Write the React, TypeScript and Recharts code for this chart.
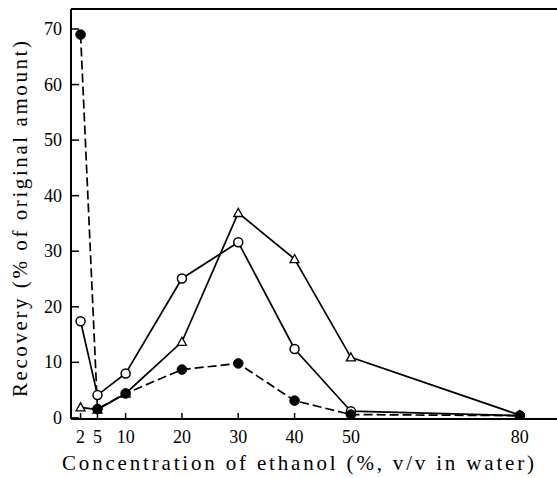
import React from 'react';
import { LineChart, Line, XAxis, YAxis, ReferenceLine } from 'recharts';

const ethanol = [2, 5, 10, 20, 30, 40, 50, 80];
const filledCircle = [69, 1.6, 4.4, 8.7, 9.8, 3.1, 0.6, 0.4];
const openCircle = [17.4, 4.1, 8.0, 25.1, 31.6, 12.4, 1.2, 0.4];
const triangle = [1.9, 1.5, 4.4, 13.7, 36.9, 28.6, 10.9, 0.5];

const xTicks = [2, 5, 10, 20, 30, 40, 50, 80];
const yTicks = [0, 10, 20, 30, 40, 50, 60, 70];

const xTitle = 'Concentration of ethanol (%, v/v in water)';
const yTitle = 'Recovery (% of original amount)';

const data = ethanol.map((x, i) => ({
  x,
  filled: filledCircle[i],
  open: openCircle[i],
  tri: triangle[i],
}));

const font = "'Liberation Serif', 'Times New Roman', 'DejaVu Serif', serif";

const YTick = (props: any) => {
  const { x, y, payload } = props;
  return (
    <g>
      <line x1={x} y1={y} x2={x + 8} y2={y} stroke="#000" strokeWidth={1.5} />
      <text x={x - 9} y={y + 6} textAnchor="end" fontFamily={font} fontSize={18} fill="#000">
        {payload.value}
      </text>
    </g>
  );
};

const XTick = (props: any) => {
  const { x, y, payload } = props;
  return (
    <g>
      <line x1={x} y1={y} x2={x} y2={y - 6} stroke="#000" strokeWidth={1.5} />
      <text x={x} y={y + 24} textAnchor="middle" fontFamily={font} fontSize={18} fill="#000">
        {payload.value}
      </text>
    </g>
  );
};

// axis titles, stretched to the span they take in the scan
const XTitle = (props: any) => {
  const { viewBox } = props;
  const cx = viewBox.x + viewBox.width / 2 - 16;
  const by = viewBox.y + viewBox.height - 8;
  return (
    <text
      x={cx - 236}
      y={by}
      fontFamily={font}
      fontSize={21}
      fill="#000"
      textLength={472}
      lengthAdjust="spacing"
    >
      {xTitle}
    </text>
  );
};

const YTitle = (props: any) => {
  const { viewBox } = props;
  const cx = viewBox.x + 27;
  const cy = viewBox.y + viewBox.height / 2 + 5;
  return (
    <text
      x={cx}
      y={cy + 178}
      transform={`rotate(-90 ${cx} ${cy + 178})`}
      fontFamily={font}
      fontSize={21}
      fill="#000"
      textLength={356}
      lengthAdjust="spacing"
    >
      {yTitle}
    </text>
  );
};

const OpenDot = (props: any) => {
  const { cx, cy } = props;
  return <circle cx={cx} cy={cy} r={4.5} fill="#fff" stroke="#000" strokeWidth={1.5} />;
};

const FilledDot = (props: any) => {
  const { cx, cy } = props;
  return <circle cx={cx} cy={cy} r={4.8} fill="#000" stroke="#000" strokeWidth={1} />;
};

const TriDot = (props: any) => {
  const { cx, cy } = props;
  const s = 4.5;
  return (
    <polygon
      points={`${cx},${cy - s} ${cx - s},${cy + s * 0.8} ${cx + s},${cy + s * 0.8}`}
      fill="#fff"
      stroke="#000"
      strokeWidth={1.3}
    />
  );
};

export default function App() {
  return (
    <div style={{ position: 'absolute', left: 0, top: 0, background: '#fff' }}>
      <LineChart width={557} height={478} data={data} margin={{ top: 9, right: 0, left: 0, bottom: 0 }}>
        <XAxis
          dataKey="x"
          type="number"
          domain={[0.3, 86.6]}
          allowDataOverflow
          ticks={xTicks}
          interval={0}
          height={59}
          tickSize={0}
          tickMargin={0}
          tickLine={false}
          tick={<XTick />}
          axisLine={{ stroke: '#000', strokeWidth: 2 }}
          label={{ content: <XTitle /> }}
        />
        <YAxis
          type="number"
          domain={[-0.2, 73.6]}
          allowDataOverflow
          ticks={yTicks}
          interval={0}
          width={71}
          tickSize={0}
          tickMargin={0}
          tickLine={false}
          tick={<YTick />}
          axisLine={{ stroke: '#000', strokeWidth: 2 }}
          label={{ content: <YTitle /> }}
        />
        <ReferenceLine y={73.6} stroke="#000" strokeWidth={2} ifOverflow="extendDomain" />
        <Line
          dataKey="tri"
          stroke="#000"
          strokeWidth={1.7}
          dot={<TriDot />}
          isAnimationActive={false}
        />
        <Line
          dataKey="open"
          stroke="#000"
          strokeWidth={1.7}
          dot={<OpenDot />}
          isAnimationActive={false}
        />
        <Line
          dataKey="filled"
          stroke="#000"
          strokeWidth={1.7}
          strokeDasharray="9 4"
          dot={<FilledDot />}
          isAnimationActive={false}
        />
      </LineChart>
    </div>
  );
}
